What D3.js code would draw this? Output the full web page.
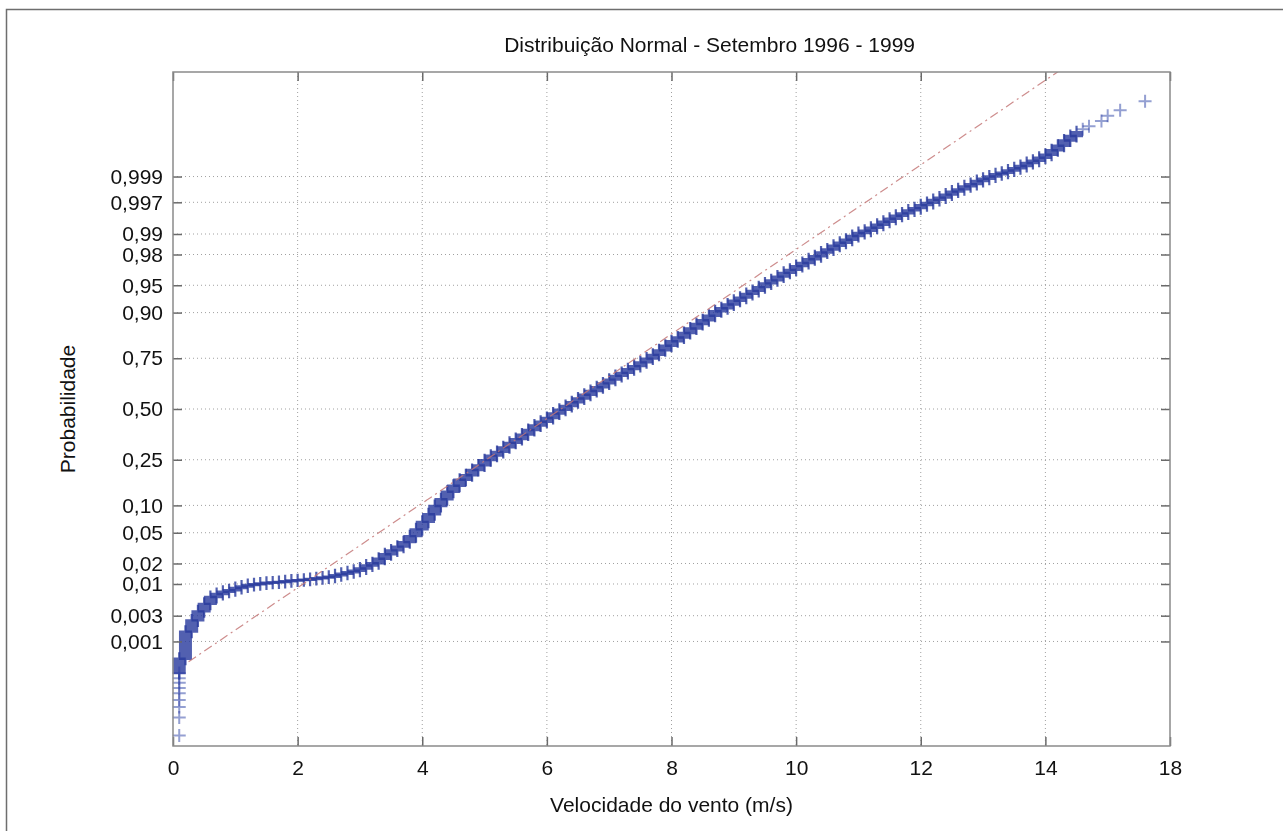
<!DOCTYPE html>
<html>
<head>
<meta charset="utf-8">
<script src="https://cdn.jsdelivr.net/npm/d3@7"></script>
<style>
  body { margin: 0; background: #fff; }
  text { font-family: "Liberation Sans", Arial, sans-serif; fill: #111; }
</style>
</head>
<body>
<div id="chart"></div>
<script>
// ---
// Data
// ---
const title = 'Distribuição Normal - Setembro 1996 - 1999'
const xLabel = 'Velocidade do vento (m/s)'
const yLabel = 'Probabilidade'

// wind speed classes (m/s) and the normal score reached at the top of each class;
// every class is a stack of '+' markers from the previous score up to its own
const speed = [
  0.1, 0.2, 0.3, 0.4, 0.5, 0.6, 0.7, 0.8, 0.9, 1.0,
  1.1, 1.2, 1.3, 1.4, 1.5, 1.6, 1.7, 1.8, 1.9, 2.0,
  2.1, 2.2, 2.3, 2.4, 2.5, 2.6, 2.7, 2.8, 2.9, 3.0,
  3.1, 3.2, 3.3, 3.4, 3.5, 3.6, 3.7, 3.8, 3.9, 4.0,
  4.1, 4.2, 4.3, 4.4, 4.5, 4.6, 4.7, 4.8, 4.9, 5.0,
  5.1, 5.2, 5.3, 5.4, 5.5, 5.6, 5.7, 5.8, 5.9, 6.0,
  6.1, 6.2, 6.3, 6.4, 6.5, 6.6, 6.7, 6.8, 6.9, 7.0,
  7.1, 7.2, 7.3, 7.4, 7.5, 7.6, 7.7, 7.8, 7.9, 8.0,
  8.1, 8.2, 8.3, 8.4, 8.5, 8.6, 8.7, 8.8, 8.9, 9.0,
  9.1, 9.2, 9.3, 9.4, 9.5, 9.6, 9.7, 9.8, 9.9, 10.0,
  10.1, 10.2, 10.3, 10.4, 10.5, 10.6, 10.7, 10.8, 10.9, 11.0,
  11.1, 11.2, 11.3, 11.4, 11.5, 11.6, 11.7, 11.8, 11.9, 12.0,
  12.1, 12.2, 12.3, 12.4, 12.5, 12.6, 12.7, 12.8, 12.9, 13.0,
  13.1, 13.2, 13.3, 13.4, 13.5, 13.6, 13.7, 13.8, 13.9, 14.0,
  14.1, 14.2, 14.3, 14.4, 14.5
]
const score = [
  -3.32, -2.96, -2.81, -2.69, -2.59, -2.50, -2.46, -2.43, -2.41, -2.38,
  -2.36, -2.34, -2.33, -2.32, -2.31, -2.305, -2.30, -2.29, -2.28, -2.275,
  -2.27, -2.26, -2.25, -2.24, -2.23, -2.21, -2.19, -2.17, -2.15, -2.12,
  -2.08, -2.05, -1.99, -1.93, -1.88, -1.83, -1.77, -1.69, -1.60, -1.50,
  -1.40, -1.29, -1.20, -1.10, -1.02, -0.94, -0.88, -0.81, -0.75, -0.68,
  -0.62, -0.57, -0.51, -0.45, -0.40, -0.34, -0.28, -0.22, -0.17, -0.12,
  -0.06, -0.01, 0.04, 0.09, 0.14, 0.19, 0.24, 0.29, 0.34, 0.39,
  0.44, 0.48, 0.53, 0.57, 0.62, 0.67, 0.72, 0.78, 0.84, 0.90,
  0.95, 1.01, 1.07, 1.13, 1.18, 1.24, 1.30, 1.34, 1.39, 1.44,
  1.48, 1.53, 1.57, 1.62, 1.67, 1.71, 1.76, 1.81, 1.85, 1.90,
  1.94, 1.99, 2.03, 2.08, 2.12, 2.17, 2.21, 2.25, 2.30, 2.34,
  2.37, 2.41, 2.45, 2.49, 2.53, 2.57, 2.60, 2.64, 2.67, 2.71,
  2.74, 2.78, 2.81, 2.85, 2.89, 2.92, 2.96, 2.99, 3.03, 3.06,
  3.09, 3.12, 3.14, 3.17, 3.20, 3.23, 3.27, 3.30, 3.34, 3.38,
  3.44, 3.50, 3.57, 3.63, 3.68
]

// isolated points in both tails
const tailSpeed = [0.1, 0.1, 0.1, 0.1, 0.1, 0.1, 0.1, 0.1, 0.1, 14.6, 14.7, 14.9, 15.0, 15.2, 15.6]
const tailScore = [-4.34, -4.10, -3.96, -3.87, -3.78, -3.71, -3.64, -3.58, -3.51, 3.72, 3.76, 3.83, 3.90, 3.97, 4.09]

// reference line ends (speed, normal score)
const refSpeed = [0.25, 15.6]
const refScore = [-3.36, 5.27]

const xTicks = [0, 2, 4, 6, 8, 10, 12, 14, 16]
const xTickLabels = ['0', '2', '4', '6', '8', '10', '12', '14', '18']
const probTicks = [0.001, 0.003, 0.01, 0.02, 0.05, 0.10, 0.25, 0.50, 0.75, 0.90, 0.95, 0.98, 0.99, 0.997, 0.999]
const probLabels = ['0,001', '0,003', '0,01', '0,02', '0,05', '0,10', '0,25', '0,50', '0,75', '0,90', '0,95', '0,98', '0,99', '0,997', '0,999']

// inverse of the standard normal cdf (Acklam)
function probit (p) {
  const a = [-39.69683028665376, 220.9460984245205, -275.9285104469687, 138.3577518672690, -30.66479806614716, 2.506628277459239]
  const b = [-54.47609879822406, 161.5858368580409, -155.6989798598866, 66.80131188771972, -13.28068155288572]
  const c = [-0.007784894002430293, -0.3223964580411365, -2.400758277161838, -2.549732539343734, 4.374664141464968, 2.938163982698783]
  const d = [0.007784695709041462, 0.3224671290700398, 2.445134137142996, 3.754408661907416]
  const tail = q => (((((c[0] * q + c[1]) * q + c[2]) * q + c[3]) * q + c[4]) * q + c[5]) /
    ((((d[0] * q + d[1]) * q + d[2]) * q + d[3]) * q + 1)
  if (p < 0.02425) return tail(Math.sqrt(-2 * Math.log(p)))
  if (p > 1 - 0.02425) return -tail(Math.sqrt(-2 * Math.log(1 - p)))
  const q = p - 0.5
  const r = q * q
  return (((((a[0] * r + a[1]) * r + a[2]) * r + a[3]) * r + a[4]) * r + a[5]) * q /
    (((((b[0] * r + b[1]) * r + b[2]) * r + b[3]) * r + b[4]) * r + 1)
}

// ---
// Chart
// ---
const W = 1283
const H = 831
const margin = {top: 72, right: 113, bottom: 85, left: 173}
const width = W - margin.left - margin.right
const height = H - margin.top - margin.bottom
const arm = 6.5

const svg = d3.select('#chart').append('svg')
  .attr('width', W)
  .attr('height', H)

// page frame (only top and left edges are in view)
svg.append('path')
  .attr('d', `M6.5,${H}V9.5H${W}`)
  .attr('fill', 'none')
  .attr('stroke', '#6e6e6e')
  .attr('stroke-width', 1.5)

const defs = svg.append('defs')
defs.append('clipPath').attr('id', 'plot-clip')
  .append('rect')
  .attr('width', width)
  .attr('height', height)
defs.append('filter').attr('id', 'soft')
  .append('feGaussianBlur')
  .attr('stdDeviation', 0.5)

const g = svg.append('g')
  .attr('transform', `translate(${margin.left}, ${margin.top})`)

const xScale = d3.scaleLinear()
  .domain([0, 16])
  .range([0, width])

const yScale = d3.scaleLinear()
  .domain([-4.48, 4.48])
  .range([height, 0])

const yTickValues = probTicks.map(probit)

// Grid
g.append('g')
  .selectAll('line')
  .data(xTicks.slice(1, -1))
  .enter()
  .append('line')
  .attr('x1', d => xScale(d))
  .attr('x2', d => xScale(d))
  .attr('y1', 0)
  .attr('y2', height)
  .attr('stroke', '#a0a0a0')
  .attr('stroke-dasharray', '1,3')

g.append('g')
  .selectAll('line')
  .data(yTickValues)
  .enter()
  .append('line')
  .attr('x1', 0)
  .attr('x2', width)
  .attr('y1', d => yScale(d))
  .attr('y2', d => yScale(d))
  .attr('stroke', '#a0a0a0')
  .attr('stroke-dasharray', '1,3')

// Points
const points = g.append('g')
  .attr('filter', 'url(#soft)')

// class stacks: '+' markers piled from the previous score to this one
points.selectAll('path.stack')
  .data(speed.map((s, i) => ({s, lo: i === 0 ? tailScore[8] : score[i - 1], hi: score[i]})))
  .enter()
  .append('path')
  .attr('class', 'stack')
  .attr('d', d => {
    const x = xScale(d.s)
    const top = yScale(d.hi)
    const bot = yScale(d.lo)
    return `M${x - arm},${top - 1.2}H${x + arm}V${bot + 1.2}H${x - arm}Z` +
      `M${x - 1.1},${top - arm}H${x + 1.1}V${bot + arm}H${x - 1.1}Z`
  })
  .attr('fill', '#27389c')
  .attr('fill-opacity', 0.8)

points.selectAll('path.single')
  .data(tailSpeed.map((s, i) => [s, tailScore[i]]))
  .enter()
  .append('path')
  .attr('class', 'single')
  .attr('transform', d => `translate(${xScale(d[0])}, ${yScale(d[1])})`)
  .attr('d', `M${-arm},0H${arm}M0,${-arm}V${arm}`)
  .attr('fill', 'none')
  .attr('stroke', '#2c40a6')
  .attr('stroke-opacity', 0.5)
  .attr('stroke-width', 2)

// Reference line
const line = d3.line()
  .x(d => xScale(d[0]))
  .y(d => yScale(d[1]))

g.append('path')
  .datum(refSpeed.map((s, i) => [s, refScore[i]]))
  .attr('clip-path', 'url(#plot-clip)')
  .attr('d', line)
  .attr('fill', 'none')
  .attr('stroke', '#c47878')
  .attr('stroke-opacity', 0.85)
  .attr('stroke-width', 1.2)
  .attr('stroke-dasharray', '9,4,2,4')

// Axes
const styleAxis = sel => {
  sel.select('.domain').remove()
  sel.selectAll('line').attr('stroke', '#6a6a6a').attr('stroke-width', 1.5)
  sel.selectAll('text').attr('font-size', 21).attr('font-family', '"Liberation Sans", Arial, sans-serif').attr('fill', '#111')
}

g.append('g')
  .attr('transform', `translate(0, ${height})`)
  .call(d3.axisBottom(xScale).tickValues(xTicks).tickFormat((d, i) => xTickLabels[i]).tickSize(-9).tickPadding(14))
  .call(styleAxis)

g.append('g')
  .call(d3.axisTop(xScale).tickValues(xTicks).tickFormat('').tickSize(-9))
  .call(styleAxis)

g.append('g')
  .call(d3.axisLeft(yScale).tickValues(yTickValues).tickFormat((d, i) => probLabels[i]).tickSize(-9).tickPadding(10))
  .call(styleAxis)

g.append('g')
  .attr('transform', `translate(${width}, 0)`)
  .call(d3.axisRight(yScale).tickValues(yTickValues).tickFormat('').tickSize(-9))
  .call(styleAxis)

// Frame
g.append('rect')
  .attr('width', width)
  .attr('height', height)
  .attr('fill', 'none')
  .attr('stroke', '#8a8a8a')
  .attr('stroke-width', 1.5)

// Labels
svg.append('text')
  .attr('x', 915)
  .attr('y', 52)
  .attr('text-anchor', 'end')
  .attr('font-size', 21)
  .text(title)

svg.append('text')
  .attr('x', margin.left + width / 2)
  .attr('y', 812)
  .attr('text-anchor', 'middle')
  .attr('font-size', 21)
  .text(xLabel)

svg.append('text')
  .attr('transform', `translate(75, ${margin.top + height / 2}) rotate(-90)`)
  .attr('text-anchor', 'middle')
  .attr('font-size', 21)
  .text(yLabel)
</script>
</body>
</html>
